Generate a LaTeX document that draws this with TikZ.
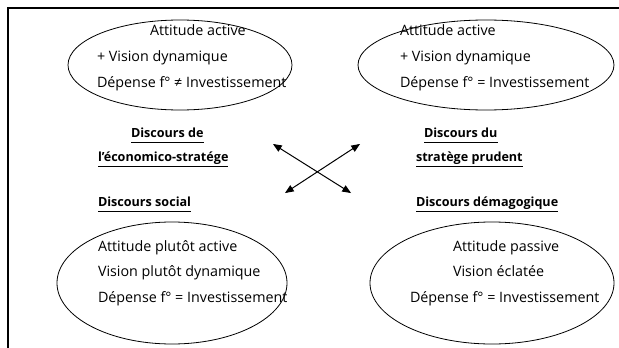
\documentclass[tikz,border=0pt]{standalone}
\usepackage{fontspec}
\setmainfont{Open Sans}
\usepackage{tikz}
\usetikzlibrary{arrows}
\usetikzlibrary{positioning}
\tikzstyle{base}=[x=1pt, y=-1pt, inner sep=0pt, outer sep=0pt]
\tikzstyle{txt}=[anchor=base west, font=\fontsize{14.3}{16}\selectfont]
\tikzstyle{head}=[anchor=base west, font=\fontsize{12.6}{15}\selectfont\bfseries]
\tikzstyle{oval}=[black, line width=0.8pt]
\tikzstyle{rule}=[black, line width=0.9pt]
\tikzstyle{cross}=[black, line width=1pt, triangle 45-triangle 45]

\begin{document}
\begin{tikzpicture}[base]
    \path [use as bounding box] (0,0) rectangle (619,348);
    % frame
    \draw [line width=1.3pt] (8,348) -- (8,8) -- (619,8);
    % top left
        \draw [oval] (180,65) ellipse [x radius=112, y radius=45];
        \node [txt] (tla) at (150,35) {Attitude active};
        \node [txt] (tlb) at (97,61) {+ Vision dynamique};
        \node [txt] (tlc) at (97,87) {Dépense f° ≠ Investissement};
    % top right
        \draw [oval] (486,65) ellipse [x radius=128, y radius=45];
        \node [txt] (tra) at (400,35) {Attitude active};
        \node [txt] (trb) at (400,61) {+ Vision dynamique};
        \node [txt] (trc) at (400,87) {Dépense f° = Investissement};
    % bottom left
        \draw [oval] (172,283) ellipse [x radius=115, y radius=61];
        \node [txt] (bla) at (98,251) {Attitude plutôt active};
        \node [txt] (blb) at (98,276) {Vision plutôt dynamique};
        \node [txt] (blc) at (98,302) {Dépense f° = Investissement};
    % bottom right
        \draw [oval] (492,283) ellipse [x radius=122, y radius=61];
        \node [txt] (bra) at (453,251) {Attitude passive};
        \node [txt] (brb) at (453,276) {Vision éclatée};
        \node [txt] (brc) at (410,302) {Dépense f° = Investissement};
    % discours
        \node [head] (eco1) at (131,137) {Discours de};
        \node [head] (eco2) at (98,161) {l'économico-stratége};
        \node [head] (soc) at (98,206) {Discours social};
        \node [head] (pru1) at (424,137) {Discours du};
        \node [head] (pru2) at (416,161) {stratège prudent};
        \node [head] (dem) at (416,206) {Discours démagogique};
        \foreach \n in {eco1,eco2,soc,pru1,pru2,dem}
            \draw [rule] ([yshift=-5pt]\n.base west) -- ([yshift=-5pt]\n.base east);
    % arrows
        \coordinate (a1) at (273,144);
        \coordinate (a2) at (351,193);
        \coordinate (b1) at (285,193);
        \coordinate (b2) at (360,144);
        \draw [cross] (a1) -- (a2);
        \draw [cross] (b1) -- (b2);
\end{tikzpicture}
\end{document}
